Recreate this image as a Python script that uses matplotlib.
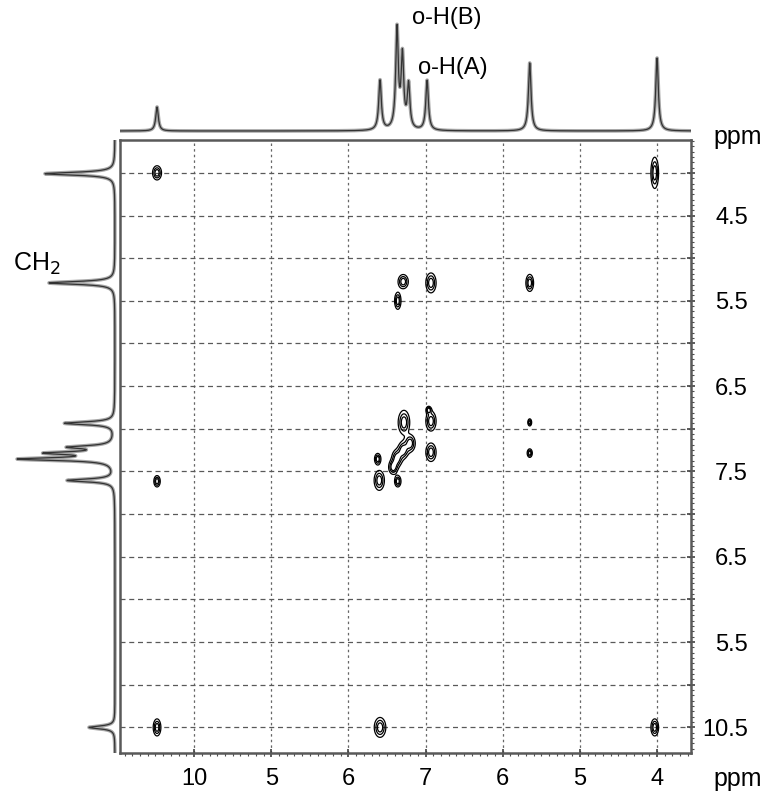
import numpy as np
import matplotlib
matplotlib.use('Agg')
import matplotlib.pyplot as plt
from matplotlib.ticker import MultipleLocator

plt.rcParams['font.family'] = ['Liberation Sans', 'DejaVu Sans']

# axis layout in grid units (one unit per grid line)
x_ticks = [1, 2, 3, 4, 5, 6, 7]
x_labels = ['10', '5', '6', '7', '6', '5', '4']
y_rows = list(range(14))
y_labels = ['', '4.5', '', '5.5', '', '6.5', '', '7.5', '', '6.5', '', '5.5', '', '10.5']

# 1D projection on top (position, height)
top_pos = [0.52, 3.41, 3.63, 3.70, 3.78, 4.02, 5.35, 7.00]
top_amp = [24, 50, 100, 72, 44, 50, 68, 73]

# 1D projection on the left
left_pos = [0.02, 2.58, 5.87, 6.43, 6.57, 6.71, 7.21, 13.0]
left_amp = [70, 66, 50, 42, 62, 92, 47, 26]

# cross peaks
cross_x = [0.52, 6.97, 3.71, 4.07, 3.64, 5.35, 3.72, 4.07, 4.04, 3.80, 3.71, 3.63,
           3.58, 4.07, 3.38, 3.40, 3.64, 5.35, 5.35, 0.52, 0.52, 3.41, 6.97]
cross_y = [0.0, 0.0, 2.55, 2.58, 3.0, 2.58, 5.85, 5.82, 5.56, 6.34, 6.50, 6.69,
           6.90, 6.55, 6.71, 7.21, 7.23, 5.85, 6.57, 7.23, 13.0, 13.0, 13.0]
cross_sx = [0.035, 0.03, 0.04, 0.04, 0.025, 0.03, 0.045, 0.04, 0.02, 0.04, 0.04, 0.04,
            0.035, 0.04, 0.025, 0.04, 0.025, 0.015, 0.02, 0.025, 0.03, 0.045, 0.03]
cross_sy = [0.1, 0.22, 0.1, 0.14, 0.12, 0.12, 0.17, 0.14, 0.05, 0.12, 0.12, 0.12,
            0.10, 0.13, 0.08, 0.14, 0.08, 0.05, 0.06, 0.08, 0.12, 0.14, 0.12]

W, H = 766, 791
fig = plt.figure(figsize=(W / 100, H / 100), dpi=100)

x0, x1, y0, y1 = 120, 691, 140, 753
ax = fig.add_axes([x0 / W, (H - y1) / H, (x1 - x0) / W, (y1 - y0) / H])
ax_top = fig.add_axes([x0 / W, (H - 136) / H, (x1 - x0) / W, 136 / H])
ax_left = fig.add_axes([0, (H - y1) / H, 118 / W, (y1 - y0) / H])

xlim = (0.04, 7.44)
ylim = (13.6, -0.77)

# 2D map
gx = np.linspace(xlim[0], xlim[1], 1500)
gy = np.linspace(ylim[1], ylim[0], 1500)
XX, YY = np.meshgrid(gx, gy)
Z = np.zeros_like(XX)
for cx, cy, sx, sy in zip(cross_x, cross_y, cross_sx, cross_sy):
    Z += np.exp(-((XX - cx) ** 2 / (2 * sx ** 2) + (YY - cy) ** 2 / (2 * sy ** 2)))
ax.contour(XX, YY, Z, levels=[0.25, 0.5, 0.75], colors='black', linewidths=0.9)

ax.set_xlim(*xlim)
ax.set_ylim(*ylim)
ax.set_xticks(x_ticks)
ax.set_xticklabels(x_labels, fontsize=17)
ax.set_yticks(y_rows)
ax.set_yticklabels(y_labels, fontsize=17)
ax.yaxis.tick_right()
ax.xaxis.set_minor_locator(MultipleLocator(0.1))
ax.yaxis.set_minor_locator(MultipleLocator(0.125))
ax.tick_params(axis='x', which='major', direction='inout', length=6, width=1.2, pad=8, color='0.25')
ax.tick_params(axis='x', which='minor', direction='out', length=2.5, width=0.8, color='0.3')
ax.tick_params(axis='y', which='major', direction='inout', length=6, width=1.2, pad=38, color='0.25')
ax.tick_params(axis='y', which='minor', direction='out', length=2.5, width=0.8, color='0.3')
for lab in ax.get_yticklabels():
    lab.set_horizontalalignment('right')
ax.grid(axis='x', which='major', color='0.4', linestyle=(0, (2, 2.5)), linewidth=0.9)
ax.grid(axis='y', which='major', color='0.35', linestyle=(0, (4, 3)), linewidth=0.9)
for s in ax.spines.values():
    s.set_color('0.35')
    s.set_linewidth(1.8)

# top projection
tx = np.linspace(xlim[0], xlim[1], 5000)
ty = np.zeros_like(tx)
g = 0.02
for p, a in zip(top_pos, top_amp):
    ty += a * g ** 2 / ((tx - p) ** 2 + g ** 2)
ax_top.plot(tx, ty, color='0.65', lw=2.6, solid_capstyle='butt')
ax_top.plot(tx, ty, color='0.2', lw=0.9)
ax_top.set_xlim(*xlim)
ax_top.set_ylim(-5, 131)
ax_top.axis('off')
ax_top.text(3.82, 113, 'o-H(B)', fontsize=17, va='center', ha='left')
ax_top.text(3.90, 63, 'o-H(A)', fontsize=17, va='center', ha='left')

# left projection
ly = np.linspace(ylim[1] - 0.05, ylim[0] + 0.05, 5000)
lx = np.zeros_like(ly)
g = 0.04
for p, a in zip(left_pos, left_amp):
    lx += a * g ** 2 / ((ly - p) ** 2 + g ** 2)
ax_left.plot(lx, ly, color='0.65', lw=2.6)
ax_left.plot(lx, ly, color='0.2', lw=0.9)
ax_left.set_xlim(115, -3)
ax_left.set_ylim(*ylim)
ax_left.axis('off')

fig.text(13 / W, 1 - 264 / H, 'CH$_2$', fontsize=18, ha='left', va='center')
fig.text(738 / W, 1 - 137 / H, 'ppm', fontsize=18, ha='center', va='center')
fig.text(738 / W, 1 - 779 / H, 'ppm', fontsize=18, ha='center', va='center')

fig.savefig('out.png', dpi=100)
